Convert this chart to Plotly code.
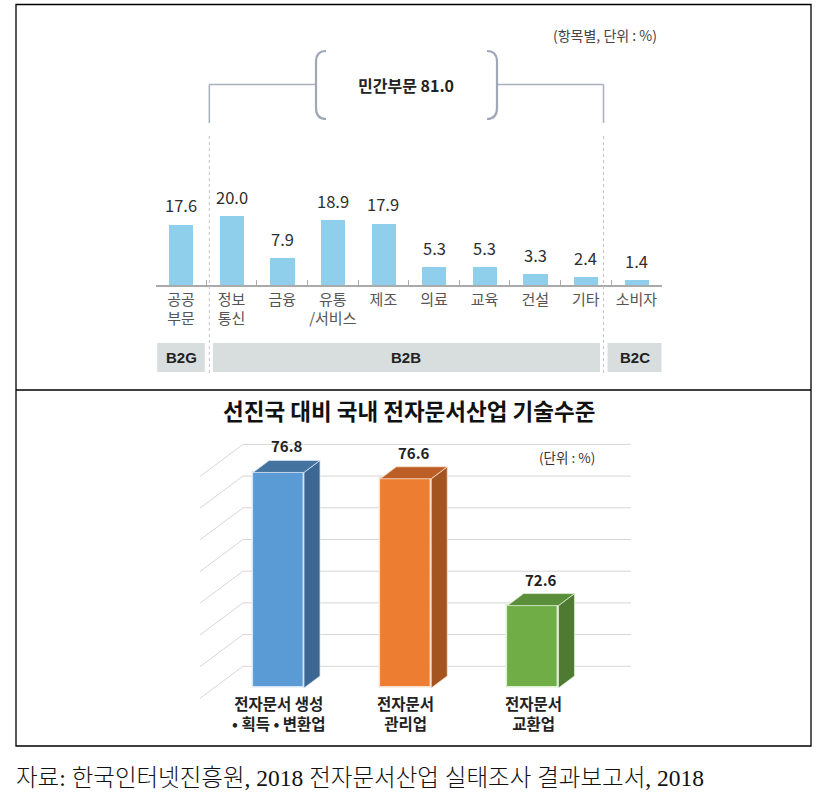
import plotly.graph_objects as go

W, H = 821, 806

# ---------------- data ----------------
top_categories = ["공공<br>부문", "정보<br>통신", "금융", "유통<br>/서비스", "제조",
                  "의료", "교육", "건설", "기타", "소비자"]
top_values = [17.6, 20.0, 7.9, 18.9, 17.9, 5.3, 5.3, 3.3, 2.4, 1.4]
group_labels = ["B2G", "B2B", "B2C"]
private_total_label = "민간부문 81.0"

bot_categories = ["전자문서 생성<br>• 획득 • 변환업", "전자문서<br>관리업", "전자문서<br>교환업"]
bot_values = [76.8, 76.6, 72.6]
bot_front = ["#5B9BD5", "#ED7D31", "#70AD47"]
bot_side = ["#3C6792", "#A4541F", "#4E7B31"]
bot_top = ["#44739F", "#BC5F26", "#5B8E3B"]
bot_edge = ["#D6E6F5", "#FBE0CC", "#DCEFD0"]
bot_grid_values = [70, 71, 72, 73, 74, 75, 76, 77]

title_bottom = "선진국 대비 국내 전자문서산업 기술수준"
caption = "자료: 한국인터넷진흥원, 2018 전자문서산업 실태조사 결과보고서, 2018"

KFONT = "Noto Sans CJK KR, Noto Sans, sans-serif"


def px(x):
    return x / W


def py(y):
    return 1 - y / H


fig = go.Figure()

# ---------------- top chart ----------------
fig.add_trace(go.Bar(
    x=top_categories, y=top_values, width=0.48,
    marker=dict(color="#8FCFEB", line=dict(width=0)),
    xaxis="x", yaxis="y", showlegend=False, hoverinfo="skip",
))
for c, v in zip(top_categories, top_values):
    fig.add_annotation(x=c, y=v, xref="x", yref="y", text=f"{v:.1f}",
                       showarrow=False, xanchor="center", yanchor="middle", yshift=19,
                       font=dict(family=KFONT, size=16.5, color="#2E2E2E"))

# separators (axis units) and group strips
sep = [0.56, 8.35]
strip_bounds = [(-0.47, 0.47), (0.63, 8.28), (8.43, 9.5)]
for lab, (x0, x1) in zip(group_labels, strip_bounds):
    fig.add_shape(type="rect", xref="x", yref="paper", x0=x0, x1=x1,
                  y0=py(372), y1=py(343), fillcolor="#D7DEDD", line=dict(width=0),
                  layer="below")
    fig.add_annotation(x=(x0 + x1) / 2, xref="x", y=py(357.5), yref="paper",
                       text=f"<b>{lab}</b>", showarrow=False, xanchor="center", yanchor="middle",
                       font=dict(family="Liberation Sans Narrow, Liberation Sans, Arial", size=15,
                                 color="#222222"))
for s in sep:
    fig.add_shape(type="line", xref="x", yref="paper", x0=s, x1=s,
                  y0=py(373), y1=py(133), line=dict(color="#C4C4C4", width=1, dash="dot"))
    fig.add_shape(type="line", xref="x", yref="paper", x0=s, x1=s,
                  y0=py(123), y1=py(84.5), line=dict(color="#A8AFBD", width=1.5))

# bracket across the private sector
sep_px = [155.7 + (s + 0.5) * 50.6 for s in sep]
L, R = 316, 497
bc = "#A0A8B8"
fig.add_shape(type="line", xref="paper", yref="paper", x0=px(sep_px[0]), x1=px(L),
              y0=py(84.5), y1=py(84.5), line=dict(color="#A8AFBD", width=1.5))
fig.add_shape(type="line", xref="paper", yref="paper", x0=px(R), x1=px(sep_px[1]),
              y0=py(84.5), y1=py(84.5), line=dict(color="#A8AFBD", width=1.5))


def brace(xe, xc, y0, y1):
    return (f"M {px(xc)},{py(y0)} Q {px(xe)},{py(y0)} {px(xe)},{py(y0 + 11)} "
            f"L {px(xe)},{py(y1 - 11)} Q {px(xe)},{py(y1)} {px(xc)},{py(y1)}")


fig.add_shape(type="path", xref="paper", yref="paper", path=brace(L, L + 10, 51, 119),
              line=dict(color=bc, width=2.2))
fig.add_shape(type="path", xref="paper", yref="paper", path=brace(R, R - 10, 51, 119),
              line=dict(color=bc, width=2.2))
fig.add_annotation(x=px(406), y=py(85), xref="paper", yref="paper",
                   text=f"<b>{private_total_label}</b>", showarrow=False,
                   xanchor="center", yanchor="middle",
                   font=dict(family=KFONT, size=16, color="#222222"))
fig.add_annotation(x=px(605), y=py(35), xref="paper", yref="paper",
                   text="(항목별, 단위 : %)", showarrow=False, xanchor="center", yanchor="middle",
                   font=dict(family=KFONT, size=14, color="#444444"))

# ---------------- bottom chart (pseudo 3D) ----------------
bw = 0.4
dx = 0.126
dy = 0.379
base = 70
wall_back_off = 0.685
wall_front_off = -0.325
wall_back_x = -0.279
wall_front_x = -0.617
grid_right_x = 2.77

for g in bot_grid_values:
    fig.add_shape(type="path", xref="x2", yref="y2", layer="below",
                  path=(f"M {wall_front_x},{g + wall_front_off} L {wall_back_x},{g + wall_back_off} "
                        f"L {grid_right_x},{g + wall_back_off}"),
                  line=dict(color="#D6D6D6", width=1))

xs = list(range(len(bot_values)))
fig.add_trace(go.Bar(
    x=xs, y=[v - base for v in bot_values], base=base, width=bw,
    marker=dict(color=bot_front, line=dict(color=bot_edge, width=1.5)),
    xaxis="x2", yaxis="y2", showlegend=False, hoverinfo="skip"))

for i, v in enumerate(bot_values):
    xr = i + bw / 2
    xl = i - bw / 2
    fig.add_trace(go.Scatter(
        x=[xr, xr + dx, xr + dx, xr, xr], y=[base, base + dy, v + dy, v, base],
        mode="lines", fill="toself", fillcolor=bot_side[i],
        line=dict(color=bot_edge[i], width=0.8),
        xaxis="x2", yaxis="y2", showlegend=False, hoverinfo="skip"))
    fig.add_trace(go.Scatter(
        x=[xl, xr, xr + dx, xl + dx, xl], y=[v, v, v + dy, v + dy, v],
        mode="lines", fill="toself", fillcolor=bot_top[i],
        line=dict(color=bot_edge[i], width=0.8),
        xaxis="x2", yaxis="y2", showlegend=False, hoverinfo="skip"))
    fig.add_annotation(x=i + dx / 2, y=v + dy, xref="x2", yref="y2", text=f"<b>{v:.1f}</b>",
                       showarrow=False, xanchor="center", yanchor="bottom", yshift=2,
                       font=dict(family=KFONT, size=15, color="#222222"))
    fig.add_annotation(x=i, y=base, xref="x2", yref="y2", text=f"<b>{bot_categories[i]}</b>",
                       showarrow=False, xanchor="center", yanchor="top", yshift=-2,
                       font=dict(family=KFONT, size=15.5, color="#222222"))

fig.add_annotation(x=px(567), y=py(457), xref="paper", yref="paper", text="(단위 : %)",
                   showarrow=False, xanchor="center", yanchor="middle",
                   font=dict(family=KFONT, size=13.5, color="#333333"))
fig.add_annotation(x=px(409), y=py(410), xref="paper", yref="paper",
                   text=f"<b>{title_bottom}</b>", showarrow=False,
                   xanchor="center", yanchor="middle",
                   font=dict(family=KFONT, size=22.5, color="#111111"))

# ---------------- frames and caption ----------------
fig.add_shape(type="rect", xref="paper", yref="paper", x0=px(16), x1=px(811),
              y0=py(746), y1=py(4.5), line=dict(color="black", width=1.3))
fig.add_shape(type="line", xref="paper", yref="paper", x0=px(16), x1=px(811),
              y0=py(390), y1=py(390), line=dict(color="black", width=1.3))
fig.add_annotation(x=px(14), y=py(778), xref="paper", yref="paper", text=caption,
                   showarrow=False, xanchor="left", yanchor="middle",
                   font=dict(family="Liberation Serif, Noto Sans CJK KR, serif", size=23.5,
                             color="#111111", weight=300))

fig.update_layout(
    width=W, height=H, margin=dict(l=0, r=0, t=0, b=0),
    paper_bgcolor="white", plot_bgcolor="white",
    bargap=0,
    xaxis=dict(domain=[px(155.7), px(661.7)], type="category", range=[-0.5, 9.5],
               showline=True, linecolor="#AAAAAA", linewidth=1.5,
               ticks="inside", tickson="boundaries", ticklen=5, tickcolor="#AAAAAA",
               tickangle=0,
               tickfont=dict(family=KFONT, size=15, color="#555555"),
               showgrid=False, zeroline=False, fixedrange=True),
    yaxis=dict(domain=[py(285), py(198.75)], range=[0, 25], visible=False,
               showgrid=False, zeroline=False, fixedrange=True),
    xaxis2=dict(domain=[px(183.1), px(278.5 + 2.8 * 127.25)], range=[-0.75, 2.8],
                visible=False, showgrid=False, zeroline=False, fixedrange=True),
    yaxis2=dict(domain=[py(688 + 0.5 * 31.7), py(688 - 8.5 * 31.7)], range=[69.5, 78.5],
                visible=False, showgrid=False, zeroline=False, fixedrange=True),
)

fig.write_html("out.html")
